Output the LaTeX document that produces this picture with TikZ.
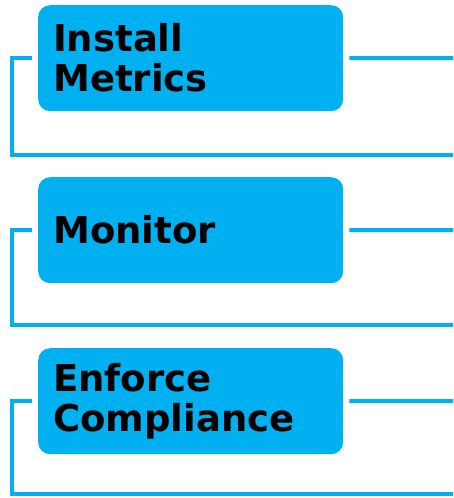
\documentclass[tikz,border=0pt]{standalone}
\usepackage{fontspec}
\setmainfont{DejaVu Sans}
\usetikzlibrary{positioning}
\definecolor{boxblue}{RGB}{0,176,240}

\begin{document}
\begin{tikzpicture}[
x=1pt, y=-1pt,
font=\bfseries\fontsize{37}{40}\selectfont,
stage/.style={rectangle, rounded corners=12pt, fill=boxblue, minimum width=305pt, minimum height=106pt, text width=275pt, inner xsep=15pt, align=left, anchor=north west},
link/.style={boxblue, line width=4pt}
]
\useasboundingbox (0,0) rectangle (453,498);

% Draw boxes
\node[stage] (install) at (38,5) {Install\\Metrics};
\node[stage] (monitor) at (38,177) {Monitor};
\node[stage] (enforce) at (38,348) {Enforce\\Compliance};

\coordinate[left=6pt of install] (install-l);
\coordinate[right=6pt of install] (install-r);
\coordinate[left=6pt of monitor] (monitor-l);
\coordinate[right=6pt of monitor] (monitor-r);
\coordinate[left=6pt of enforce] (enforce-l);
\coordinate[right=6pt of enforce] (enforce-r);

\coordinate (install-out) at (453,58);
\coordinate (install-end) at (453,155);
\coordinate (monitor-out) at (453,230);
\coordinate (monitor-end) at (453,325);
\coordinate (enforce-out) at (453,401);
\coordinate (enforce-end) at (453,494);

% Draw links
\draw[link] (install-r) -- (install-out);
\draw[link] (install-l) -- ++(-20,0) |- (install-end);
\draw[link] (monitor-r) -- (monitor-out);
\draw[link] (monitor-l) -- ++(-20,0) |- (monitor-end);
\draw[link] (enforce-r) -- (enforce-out);
\draw[link] (enforce-l) -- ++(-20,0) |- (enforce-end);
\end{tikzpicture}
\end{document}
